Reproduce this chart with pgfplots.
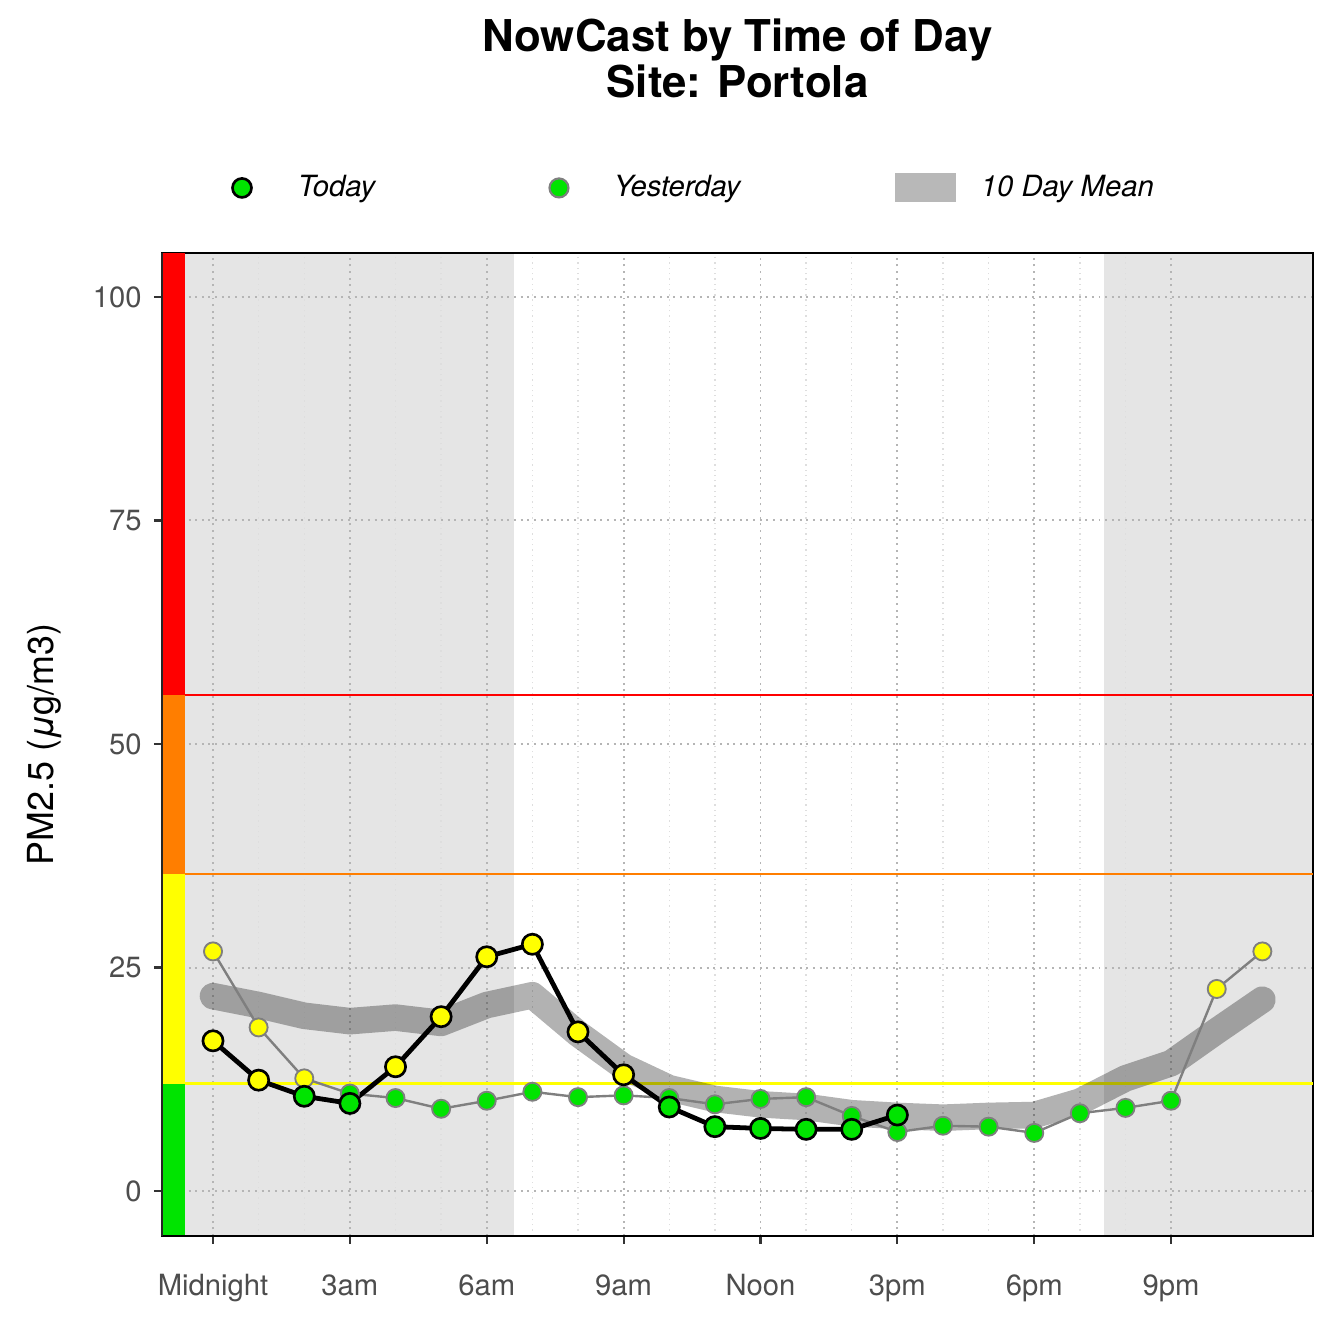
\documentclass[border=0pt]{standalone}
\usepackage{pgfplots}
\pgfplotsset{compat=1.18}
\usepackage{fontspec}
\setmainfont{TeX Gyre Heros}
\newlength\px \setlength\px{0.3764pt}
\definecolor{aqigreen}{HTML}{00E400}
\definecolor{aqiyellow}{HTML}{FFFF00}
\definecolor{aqiorange}{HTML}{FF7E00}
\definecolor{aqired}{HTML}{FF0000}
\definecolor{nightgray}{HTML}{E5E5E5}
\definecolor{ticklab}{HTML}{4D4D4D}
\definecolor{gridgray}{HTML}{B5B5B5}
\definecolor{yestgray}{HTML}{7F7F7F}
\begin{document}
\begin{tikzpicture}
\begin{axis}[
  name=ax,
  at={(162\px,108\px)}, anchor=south west,
  scale only axis, width=1151\px, height=983\px,
  xmin=-1.118, xmax=24.11, ymin=-5.03, ymax=104.92,
  set layers,
  axis line style={black, line width=0.75pt},
  tick align=outside, tick pos=left,
  major tick length=8\px, minor tick length=0pt,
  tick style={color=black!80, line width=0.8pt},
  xtick={0,3,...,21},
  xticklabels={Midnight,3am,6am,9am,Noon,3pm,6pm,9pm},
  minor x tick num=2,
  ytick={0,25,50,75,100},
  xmajorgrids, ymajorgrids, xminorgrids,
  major grid style={gridgray, line width=0.75pt, dash pattern=on 0.75pt off 1.75pt},
  minor grid style={black!13, line width=0.5pt, dash pattern=on 0.5pt off 1.5pt},
  ticklabel style={font=\fontsize{11}{13}\selectfont, text=ticklab},
  /pgf/number format/assume math mode=true,
  yticklabel style={xshift=-3\px},
  xticklabel style={yshift=-21\px},
  ylabel={PM2.5 (\textit{μ}g/m3)},
  ylabel style={at={(axis description cs:-0.1017,0.5)}, anchor=center, font=\fontsize{13.5}{15}\selectfont},
  title={NowCast by Time of Day\\Site: Portola},
  title style={at={(axis description cs:0.5,1.1820)}, anchor=center, align=center, inner sep=0pt, font=\fontsize{16.5}{17.3}\selectfont\bfseries},
  legend columns=3,
  legend cell align=left,
  legend style={at={(axis description cs:0.05213,1.0662)}, anchor=west, draw=none, fill=none,
    inner sep=0pt, outer sep=0pt, column sep=0pt, row sep=0pt,
    nodes={inner sep=0pt, outer sep=0pt}, font=\fontsize{11}{13}\selectfont\itshape},
]
% legend images
\addlegendimage{legend image code/.code={\path[draw=none,fill=none] (0,0) rectangle (76\px,0); \draw[fill=aqigreen, draw=black, line width=1pt] (20\px,0) circle (9.5\px);}}
\addlegendentry{\makebox[241\px][l]{Today}}
\addlegendimage{legend image code/.code={\path[draw=none,fill=none] (0,0) rectangle (75\px,0); \draw[fill=aqigreen, draw=yestgray, line width=0.8pt] (20\px,0) circle (9.5\px);}}
\addlegendentry{\makebox[262\px][l]{Yesterday}}
\addlegendimage{legend image code/.code={\path[draw=none,fill=none] (0,0) rectangle (105\px,0); \fill[black!28] (20\px,-14\px) rectangle (79\px,14\px);}}
\addlegendentry{10 Day Mean}

% night shading
\addplot[fill=nightgray, draw=none, on layer=axis background, forget plot] coordinates {(-0.614,-5.03) (6.598,-5.03) (6.598,104.92) (-0.614,104.92)};
\addplot[fill=nightgray, draw=none, on layer=axis background, forget plot] coordinates {(19.53,-5.03) (24.11,-5.03) (24.11,104.92) (19.53,104.92)};

% AQI colour bar
\addplot[fill=aqigreen, draw=none, forget plot] coordinates {(-1.118,-5.03) (-0.614,-5.03) (-0.614,12) (-1.118,12)};
\addplot[fill=aqiyellow, draw=none, forget plot] coordinates {(-1.118,12) (-0.614,12) (-0.614,35.5) (-1.118,35.5)};
\addplot[fill=aqiorange, draw=none, forget plot] coordinates {(-1.118,35.5) (-0.614,35.5) (-0.614,55.5) (-1.118,55.5)};
\addplot[fill=aqired, draw=none, forget plot] coordinates {(-1.118,55.5) (-0.614,55.5) (-0.614,104.92) (-1.118,104.92)};

% AQI thresholds
\addplot[aqiyellow, line width=1pt, forget plot] coordinates {(-0.614,12) (24.11,12)};
\addplot[aqiorange, line width=0.75pt, forget plot] coordinates {(-0.614,35.5) (24.11,35.5)};
\addplot[aqired, line width=0.75pt, forget plot] coordinates {(-0.614,55.5) (24.11,55.5)};

% 10 day mean
\addplot[black, draw opacity=0.3, line width=10pt, line cap=round, line join=round, forget plot] coordinates {
(0,21.8) (1,20.8) (2,19.6) (3,19.0) (4,19.4) (5,18.8) (6,20.8) (7,21.9) (8,17.6) (9,13.9)
(10,11.5) (11,10.3) (12,9.7) (13,9.4) (14,8.7) (15,8.4) (16,8.2) (17,8.4) (18,8.5) (19,10.0)
(20,12.6) (21,14.3) (22,17.9) (23,21.4)};

% yesterday
\addplot[yestgray, line width=0.9pt, forget plot] coordinates {
(0,26.8) (1,18.3) (2,12.6) (3,10.9) (4,10.4) (5,9.2) (6,10.1) (7,11.1) (8,10.5) (9,10.7)
(10,10.4) (11,9.7) (12,10.3) (13,10.5) (14,8.4) (15,6.6) (16,7.3) (17,7.2) (18,6.5) (19,8.7)
(20,9.3) (21,10.1) (22,22.6) (23,26.8)};
\addplot[only marks, mark=*, mark size=3.4pt, mark options={fill=aqiyellow, draw=yestgray, line width=0.7pt}, forget plot] coordinates {
(0,26.8) (1,18.3) (2,12.6) (22,22.6) (23,26.8)};
\addplot[only marks, mark=*, mark size=3.4pt, mark options={fill=aqigreen, draw=yestgray, line width=0.7pt}, forget plot] coordinates {
(3,10.9) (4,10.4) (5,9.2) (6,10.1) (7,11.1) (8,10.5) (9,10.7)
(10,10.4) (11,9.7) (12,10.3) (13,10.5) (14,8.4) (15,6.6) (16,7.3) (17,7.2) (18,6.5) (19,8.7)
(20,9.3) (21,10.1)};

% today
\addplot[black, line width=1.8pt, forget plot] coordinates {
(0,16.8) (1,12.4) (2,10.6) (3,9.8) (4,13.9) (5,19.5) (6,26.2) (7,27.6) (8,17.8) (9,13.0)
(10,9.4) (11,7.2) (12,7.0) (13,6.9) (14,6.9) (15,8.5)};
\addplot[only marks, mark=*, mark size=3.8pt, mark options={fill=aqiyellow, draw=black, line width=1pt}, forget plot] coordinates {
(0,16.8) (1,12.4) (4,13.9) (5,19.5) (6,26.2) (7,27.6) (8,17.8) (9,13.0)};
\addplot[only marks, mark=*, mark size=3.8pt, mark options={fill=aqigreen, draw=black, line width=1pt}, forget plot] coordinates {
(2,10.6) (3,9.8) (10,9.4) (11,7.2) (12,7.0) (13,6.9) (14,6.9) (15,8.5)};
\end{axis}
\draw[black, line width=1.1pt] (ax.south west) -- (ax.south east);
\draw[black!85, line width=0.6pt] (ax.south west) -- (ax.north west);
\path (0,0) rectangle (1344\px,1344\px);
\end{tikzpicture}
\end{document}
